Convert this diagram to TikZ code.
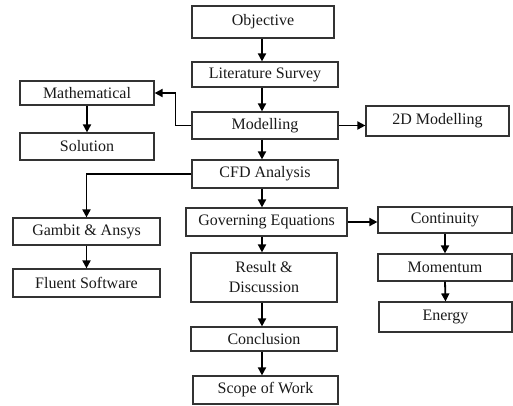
\documentclass[tikz,border=0pt]{standalone}
\usepackage{fontspec}
\setmainfont{Liberation Serif}
\usetikzlibrary{arrows.meta}
\begin{document}
\begin{tikzpicture}[x=1pt,y=-1pt,
  box/.style={draw=black!80,line width=1.2pt,inner sep=0pt,align=center,
    font=\fontsize{16}{20}\selectfont,text=black!90},
  arr/.style={line width=1.8pt,-{Triangle[length=8pt,width=8pt]}}]
\useasboundingbox (0,0) rectangle (513,405);
\node[box,minimum width=142pt,minimum height=32pt] (obj) at (263,22) {Objective};
\node[box,minimum width=146pt,minimum height=25pt] (lit) at (265,74.5) {Literature Survey};
\node[box,minimum width=146pt,minimum height=27pt] (mod) at (265,125.5) {Modelling};
\node[box,minimum width=146pt,minimum height=28pt] (cfd) at (265,174) {CFD Analysis};
\node[box,minimum width=161pt,minimum height=28pt] (gov) at (266.5,222) {Governing Equations};
\node[box,minimum width=146pt,minimum height=49pt] (res) at (264,277.5) {Result \&\\Discussion};
\node[box,minimum width=146pt,minimum height=24pt] (con) at (264,339) {Conclusion};
\node[box,minimum width=145pt,minimum height=28pt] (scope) at (265.5,390) {Scope of Work};
\node[box,minimum width=134pt,minimum height=24pt] (math) at (87,93) {Mathematical};
\node[box,minimum width=134pt,minimum height=27pt] (sol) at (87,146.5) {Solution};
\node[box,minimum width=147pt,minimum height=27pt] (gam) at (86.5,231.5) {Gambit \& Ansys};
\node[box,minimum width=147pt,minimum height=28pt] (flu) at (86.5,283) {Fluent Software};
\node[box,minimum width=143pt,minimum height=30pt] (d2) at (437.5,121) {2D Modelling};
\node[box,minimum width=134pt,minimum height=26pt] (cont) at (445,220) {Continuity};
\node[box,minimum width=134pt,minimum height=27pt] (mom) at (445,267.5) {Momentum};
\node[box,minimum width=133pt,minimum height=30pt] (en) at (445.5,317) {Energy};
\coordinate (ax) at (262,0);
\draw[arr] (obj.south -| ax) -- (lit.north -| ax);
\draw[arr] (lit.south -| ax) -- (mod.north -| ax);
\draw[arr] (mod.south -| ax) -- (cfd.north -| ax);
\draw[arr] (cfd.south -| ax) -- (gov.north -| ax);
\draw[arr] (gov.south -| ax) -- (res.north -| ax);
\draw[arr] (res.south -| ax) -- (con.north -| ax);
\draw[arr] (con.south -| ax) -- (scope.north -| ax);
\draw[arr] (mod.west) -- ++(-16,0) |- (math.east);
\draw[arr] (math.south) -- (sol.north);
\draw[arr] (mod.east) -- (mod.east -| d2.west);
\draw[arr] (cfd.west) -| (gam.north);
\draw[arr] (gam.south) -- (flu.north);
\draw[arr] (gov.east) -- (gov.east -| cont.west);
\draw[arr] (cont.south) -- (mom.north);
\draw[arr] (mom.south) -- (en.north);
\end{tikzpicture}
\end{document}
